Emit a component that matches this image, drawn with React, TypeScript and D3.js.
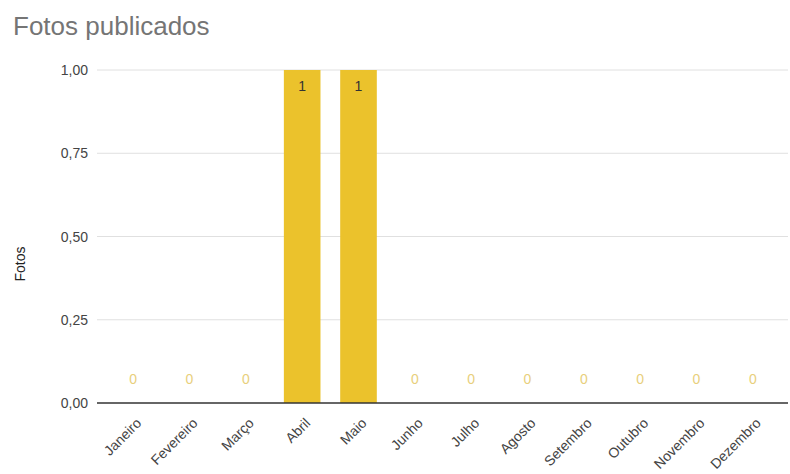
import React from "react";
import * as d3 from "d3";

const months = ["Janeiro","Fevereiro","Março","Abril","Maio","Junho","Julho","Agosto","Setembro","Outubro","Novembro","Dezembro"];
const values = [0,0,0,1,1,0,0,0,0,0,0,0];
const yTicks = [0, 0.25, 0.5, 0.75, 1];
const title = "Fotos publicados";
const yTitle = "Fotos";

export default function App() {
  const W = 790, H = 474;
  const x = d3.scaleBand<string>().domain(months).range([105, 781]).paddingInner(0.35).paddingOuter(0.175);
  const y = d3.scaleLinear().domain([0, 1]).range([403, 70]);
  const fmt = (v: number) => v.toFixed(2).replace(".", ",");
  const font = "Arial, 'Liberation Sans', sans-serif";
  return (
    <svg width={W} height={H} style={{ position: "absolute", left: 0, top: 0, background: "#fff" }} fontFamily={font}>
      <text x={13} y={35} fontSize={26} fill="#757575">{title}</text>
      {yTicks.map((t) => (
        <g key={t}>
          {t !== 0 && <line x1={97} x2={788} y1={y(t)} y2={y(t)} stroke="#e0e0e0" strokeWidth={1} />}
          <text x={88} y={y(t) + 5} fontSize={14} textAnchor="end" fill="#444">{fmt(t)}</text>
        </g>
      ))}
      <text transform={`translate(25,264) rotate(-90)`} fontSize={14} textAnchor="middle" fill="#222">{yTitle}</text>
      {months.map((m, i) => {
        const cx = (x(m) as number) + x.bandwidth() / 2;
        const v = values[i];
        return (
          <g key={m}>
            {v > 0 && (
              <rect x={x(m)} y={y(v)} width={x.bandwidth()} height={y(0) - y(v)} fill="#ebc22c" />
            )}
            <text x={cx} y={v > 0 ? y(v) + 21 : y(0) - 19} fontSize={14} textAnchor="middle" fill={v > 0 ? "#333" : "#e8cf7c"}>{v}</text>
            <text transform={`translate(${cx + 9},${424}) rotate(-45)`} fontSize={14} textAnchor="end" fill="#444">{m}</text>
          </g>
        );
      })}
      <line x1={97} x2={788} y1={y(0)} y2={y(0)} stroke="#333" strokeWidth={1.5} />
    </svg>
  );
}
